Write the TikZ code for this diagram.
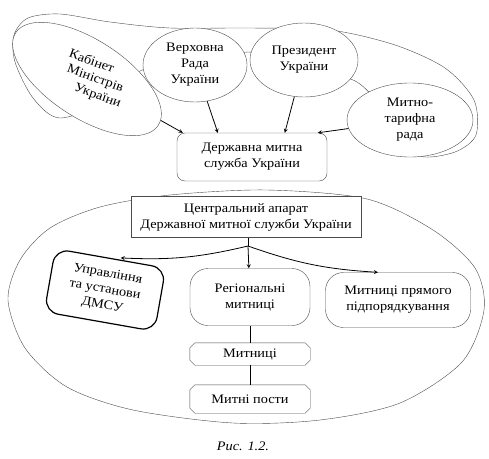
\documentclass[tikz,border=0pt]{standalone}
\usepackage{fontspec}
\setmainfont{Liberation Serif}[FakeStretch=1.1]
\usetikzlibrary{shapes.geometric}

% cut corners of a node
\newcommand\cutbox[1]{\draw[black!70] ([xshift=5pt]#1.north west) -- ([xshift=-5pt]#1.north east) -- ([yshift=-5pt]#1.north east) -- ([yshift=5pt]#1.south east) -- ([xshift=-5pt]#1.south east) -- ([xshift=5pt]#1.south west) -- ([yshift=5pt]#1.south west) -- ([yshift=-5pt]#1.north west) -- cycle;}
% one tilted word of a stack
\newcommand\tiltword[2]{\makebox[0pt]{\hspace{#1}\smash{\rotatebox[origin=c]{-20}{#2}}}}

\begin{document}
\begin{tikzpicture}[x=1pt, y=-1pt, >=stealth,
    oval/.style={draw=black!70, fill=white, ellipse, align=center, inner sep=0pt},
    box/.style={draw=black!70, fill=white, align=center, inner sep=0pt},
    arr/.style={->, line width=0.8pt},
    every node/.append style={font=\fontsize{13}{16}\selectfont}]

    \useasboundingbox (0,0) rectangle (489,458);

    % outlines round the two groups
    \draw[black!70] plot[smooth cycle] coordinates {(60,118) (33,98) (15,62) (14,35) (28,18) (60,14) (110,22) (170,28) (250,28) (330,30) (395,45) (445,68) (474,100) (476,135) (455,152) (420,156) (400,130) (357,82) (300,70) (248,52) (200,70) (142,70) (110,100)};
    \draw[black!70] plot[smooth cycle] coordinates {(267,190) (367,199) (433,230) (475,268) (484,310) (462,362) (400,403) (320,420) (233,423) (133,410) (67,387) (25,348) (8,300) (20,260) (50,228) (100,207) (170,195)};

    \node[oval, rotate=-33, minimum width=170pt, minimum height=78pt] (km) at (87,79) {\makebox[0pt]{\smash{\rotatebox[origin=c]{33}{\hspace{16pt}\raisebox{-3pt}{\begin{tabular}{@{}c@{}}\tiltword{-6pt}{Кабінет}\\[1pt]\tiltword{0pt}{Міністрів}\\[1pt]\tiltword{5pt}{України}\end{tabular}}}}}};
    \node[oval, minimum width=104pt, minimum height=74pt] (vr) at (195,65) {Верховна\\Рада\\України};
    \node[oval, minimum width=108pt, minimum height=74pt] (pr) at (304,60) {Президент\\України};
    \node[oval, minimum width=126pt, minimum height=74pt] (mtr) at (410,120) {Митно-\\тарифна\\рада};
    \node[box, rounded corners=8pt, minimum width=150pt, minimum height=48pt] (dms) at (252,157) {Державна митна\\служба України};

    \draw[arr] (km) -- ([xshift=6pt]dms.north west);
    \draw[arr] (vr) -- ([xshift=41pt]dms.north west);
    \draw[arr] (pr) -- ([xshift=108pt]dms.north west);
    \draw[arr] (mtr) -- ([xshift=141pt]dms.north west);

    \node[box, minimum width=230pt, minimum height=41pt] (ca) at (246,217) {Центральний апарат\\Державної митної служби України};
    \node[box, draw=black, line width=1.2pt, rounded corners=14pt, rotate=-10, minimum width=112pt, minimum height=64pt] (ud) at (105,290) {Управління\\та установи\\ДМСУ};
    \node[box, rounded corners=18pt, minimum width=120pt, minimum height=57pt] (rm) at (250,297) {Регіональні\\митниці};
    \node[box, rounded corners=18pt, minimum width=145pt, minimum height=55pt] (mp) at (398,300) {Митниці прямого\\підпорядкування};
    \node[box, draw=none, minimum width=120pt, minimum height=22pt] (m) at (250,354) {Митниці};
    \node[box, draw=none, minimum width=120pt, minimum height=28pt] (mpo) at (250,399) {Митні пости};
    \cutbox{m}
    \cutbox{mpo}

    \coordinate (br) at (248,246);
    \draw (ca.south -| br) -- (br);
    \draw[arr] (br) to[bend left=8] ([xshift=10pt]ud.north);
    \draw[arr] (br) -- (rm);
    \draw[arr] (br) to[bend right=8] ([xshift=-20pt]mp.north);
    \draw (rm) -- (m);
    \draw (m) -- (mpo);

    \node[font=\fontsize{13}{15}\selectfont\itshape] (cap) at (243,446) {Рис. 1.2.};

\end{tikzpicture}
\end{document}
